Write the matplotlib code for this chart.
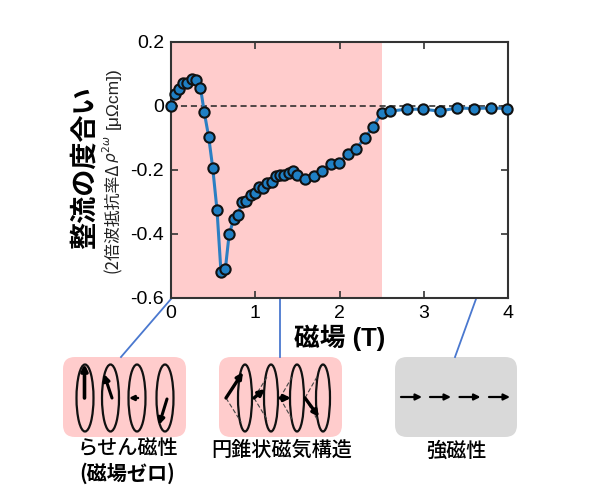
import matplotlib
matplotlib.use("Agg")
import matplotlib.pyplot as plt
from matplotlib.patches import Ellipse, FancyBboxPatch

JP = ["Noto Sans CJK JP", "DejaVu Sans"]
plt.rcParams["font.family"] = ["Liberation Sans", "Noto Sans CJK JP", "DejaVu Sans"]

# measured curve
field = [0, 0.05, 0.095, 0.146, 0.19, 0.245, 0.30, 0.35, 0.395, 0.447, 0.495, 0.546, 0.593, 0.645,
         0.69, 0.744, 0.795, 0.843, 0.894, 0.945, 0.997, 1.045, 1.096, 1.143, 1.195, 1.246, 1.294,
         1.345, 1.397, 1.444, 1.495, 1.594, 1.693, 1.796, 1.895, 1.994, 2.097, 2.196, 2.30, 2.394,
         2.50, 2.60, 2.797, 2.995, 3.19, 3.395, 3.596, 3.795, 3.99]
rectify = [0, 0.036, 0.052, 0.073, 0.073, 0.084, 0.08, 0.057, -0.02, -0.096, -0.193, -0.325, -0.518, -0.51,
           -0.401, -0.354, -0.34, -0.301, -0.298, -0.278, -0.273, -0.254, -0.257, -0.24, -0.239, -0.22, -0.217,
           -0.215, -0.21, -0.202, -0.216, -0.229, -0.219, -0.204, -0.18, -0.177, -0.15, -0.134, -0.10, -0.067,
           -0.022, -0.016, -0.01, -0.01, -0.016, -0.006, -0.008, -0.006, -0.008]
x_ticks = [0, 1, 2, 3, 4]
y_ticks = [0.2, 0, -0.2, -0.4, -0.6]
y_labels = ["0.2", "0", "-0.2", "-0.4", "-0.6"]
shade_end = 2.5

W, H = 600, 492
fig = plt.figure(figsize=(W / 100, H / 100), dpi=100)

# overlay in pixel coords for the schematics under the plot
ov = fig.add_axes([0, 0, 1, 1])
ov.set_xlim(0, W)
ov.set_ylim(H, 0)
ov.axis("off")

ax = fig.add_axes([171 / W, (H - 298) / H, 337 / W, 256 / H])
ax.axvspan(0, shade_end, color="#FFCCCC", lw=0, zorder=0)
ax.axhline(0, color="#222222", lw=1.1, ls=(0, (4, 2.5)), zorder=1)
ax.plot(field, rectify, color="#2B7FC3", lw=2.2, marker="o", ms=7.4, mfc="#1F7FC4",
        mec="#111111", mew=1.5, clip_on=False, zorder=3)
ax.set_xlim(0, 4)
ax.set_ylim(-0.6, 0.2)
ax.set_xticks(x_ticks)
ax.set_yticks(y_ticks)
ax.set_yticklabels(y_labels)
ax.tick_params(direction="in", length=5, width=1.2, labelsize=14, color="#333333",
               top=True, right=True, pad=5)
ax.patch.set_alpha(0)
for s in ax.spines.values():
    s.set_linewidth(1.5)
    s.set_color("#333333")


def box(x0, x1, color):
    ov.add_patch(FancyBboxPatch((x0 + 12, 369), x1 - x0 - 24, 56, boxstyle="round,pad=12,rounding_size=12",
                                fc=color, ec="none"))


def arrow(x0, y0, x1, y1, lw=2.4, scale=9):
    ov.annotate("", xy=(x1, y1), xytext=(x0, y0),
                arrowprops=dict(arrowstyle="-|>", color="black", lw=lw, mutation_scale=scale,
                                shrinkA=0, shrinkB=0))


# connector lines
for p in [(171, 299, 121, 357), (280, 299, 280, 357), (476, 299, 455, 357)]:
    ov.plot([p[0], p[2]], [p[1], p[3]], color="#4A78CF", lw=1.3)

box(63, 186, "#FFCCCC")
box(219, 342, "#FFCCCC")
box(395, 517, "#D9D9D9")

# helical
for cx in [85, 110.5, 137, 165]:
    ov.add_patch(Ellipse((cx, 398), 17, 67, fc="none", ec="#111111", lw=1.6))
arrow(84.5, 398, 84.5, 364, lw=2.6)
arrow(112, 398, 104, 374, lw=2.2)
arrow(138, 398, 129, 398, lw=1.8, scale=7)
arrow(167, 399, 159, 425, lw=2.2)

# conical
for cx in [245, 271, 297, 323]:
    ov.add_patch(Ellipse((cx, 398), 14, 67, fc="none", ec="#111111", lw=1.6))
for ax0, tips in [(226, [(241, 422)]), (254, [(267, 377), (268, 421)]),
                  (280, [(292, 377), (293, 421)]), (305, [(318, 375), (318, 421)])]:
    for t in tips:
        ov.plot([ax0, t[0]], [398, t[1]], color="#444444", lw=0.8, ls=(0, (4, 2)))
arrow(226, 398, 243, 372)
arrow(254, 398, 265, 389)
arrow(280, 398, 291, 398)
arrow(305, 398, 319, 417)

# ferromagnetic
for x0 in [401, 430, 459.5, 489]:
    arrow(x0, 397, x0 + 21, 397, lw=1.6, scale=9)

ov.text(128, 449, "らせん磁性", family=JP, fontsize=14.5, weight="medium", ha="center", va="center")
ov.text(127, 473, "(磁場ゼロ)", family=JP, fontsize=14.5, weight="bold", ha="center", va="center")
ov.text(282, 450, "円錐状磁気構造", family=JP, fontsize=14.5, weight="medium", ha="center", va="center")
ov.text(456, 451, "強磁性", family=JP, fontsize=14.5, weight="medium", ha="center", va="center")
ov.text(340, 338, "磁場 (T)", fontsize=18.5, weight="bold", ha="center", va="center")
ov.text(85, 168, "整流の度合い", family=JP, fontsize=19.5, weight="bold", rotation=90, ha="center", va="center")

# sublabel in three pieces: mathtext has no CJK glyphs
sub = dict(rotation=90, ha="center", color="#222222")
ov.text(113, 273, "(2倍波抵抗率Δ", family=JP, va="bottom", fontsize=12.2, **sub)
ov.text(111, 163, "$\\rho^{2\\omega}$", va="bottom", fontsize=11, **sub)
ov.text(113, 129, "[μΩcm])", family=["Liberation Sans", "DejaVu Sans"], va="bottom", fontsize=12.5, **sub)

fig.savefig("out.png", dpi=100)
